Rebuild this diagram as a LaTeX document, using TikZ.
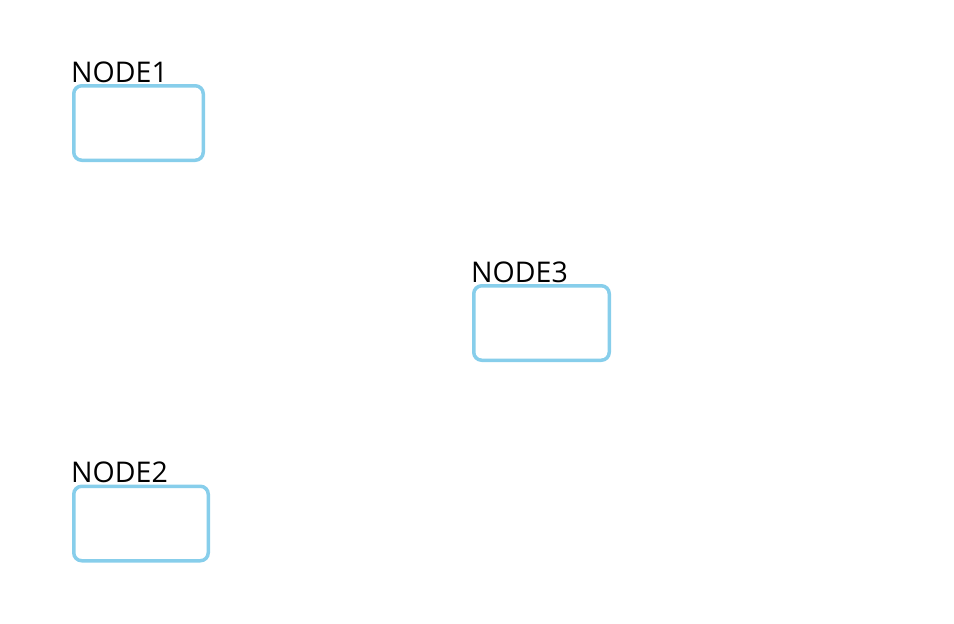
\documentclass[tikz,border=0pt]{standalone}
\usepackage{fontspec}
\setmainfont{Open Sans}
\definecolor{boxblue}{RGB}{135,206,235}
\begin{document}
\begin{tikzpicture}[x=1pt,y=-1pt,
  box/.style={draw=boxblue,line width=3.5pt,rounded corners=8pt,minimum width=#1,minimum height=74.5pt,inner sep=0pt,fill=white},
  lbl/.style={anchor=base west,inner sep=0pt,font=\fontsize{28.5}{28.5}\selectfont,text=black}]
\useasboundingbox (0,0) rectangle (954,624);
\node[box=129.5pt] (n1) at (138.5,123) {};
\node[box=135.5pt] (n3) at (541.5,323) {};
\node[box=134.5pt] (n2) at (141,523.5) {};
\node[lbl] (l1) at (71,82) {NODE1};
\node[lbl] (l3) at (471,282) {NODE3};
\node[lbl] (l2) at (71,482) {NODE2};
\end{tikzpicture}
\end{document}
